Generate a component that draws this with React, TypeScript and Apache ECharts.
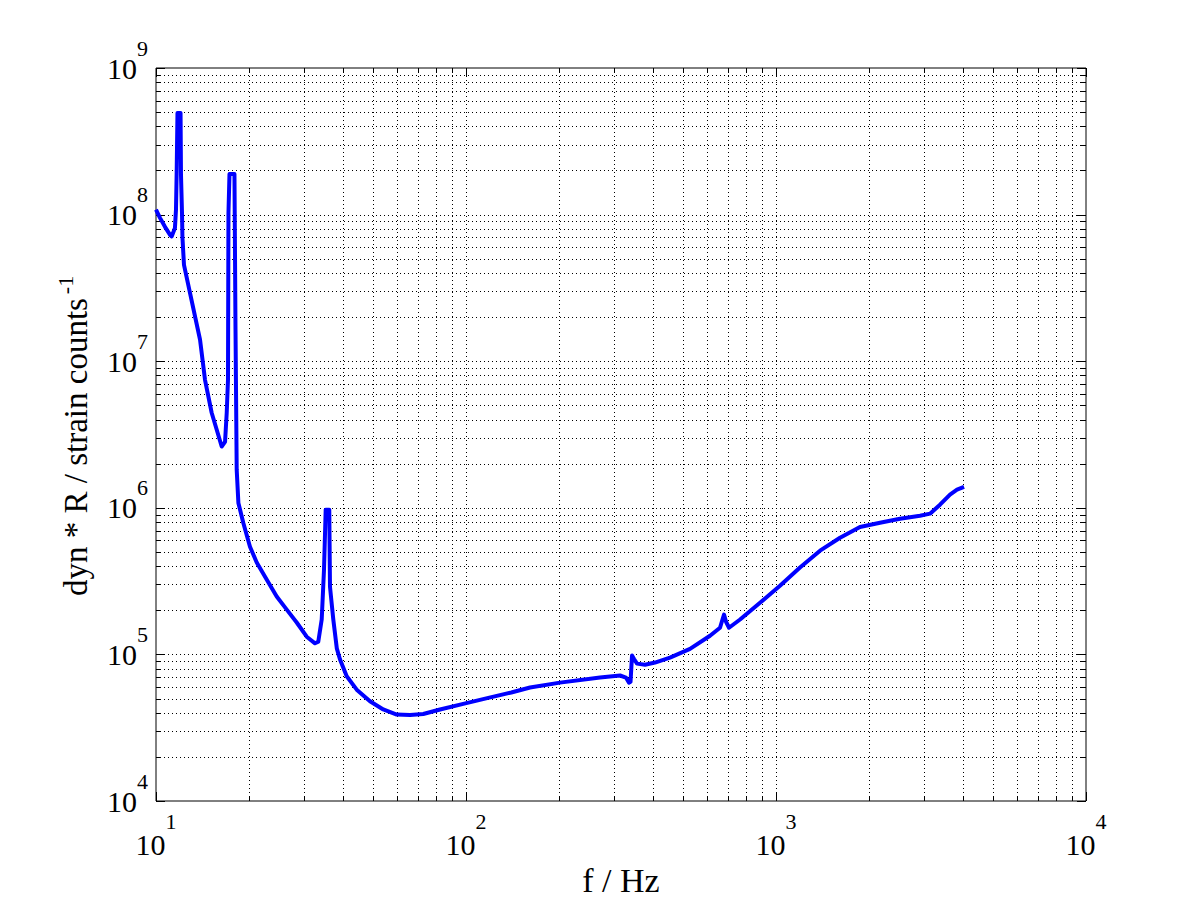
import React, { useEffect, useRef } from "react";
import * as echarts from "echarts";

// Frequency (Hz) and response values
const freqHz: number[] = [
  10, 10.3, 10.69, 11.1, 11.24, 11.51, 11.6, 11.66, 11.73, 12.0, 12.04, 12.13, 12.17, 12.31,
  13.87, 14.39, 15.12, 15.7, 16.29, 16.7, 16.91, 17.07, 17.13, 17.26, 17.91, 18.05, 18.21,
  18.44, 19.12, 20.1, 21.13, 22.75, 24.51, 26.41, 28.44, 30.63, 32.58, 33.38,
  34.24, 34.83, 35.27, 36.22, 36.41, 37.32, 38.3, 39.23, 41.23, 44.41, 49.01,
  54.09, 59.77, 65.97, 72.8, 82.45, 98.0, 118, 140, 160.9, 201, 270.5, 314, 328, 335.6, 339.4,
  343.2, 348.4, 356.2, 378, 407, 455, 528, 612.6, 659.8, 672, 679.7, 690, 705.5, 765.6, 888,
  1030, 1195, 1387, 1609, 1866, 2165, 2512, 2914, 3140, 3381, 3642, 3836, 4042,
];
const response: number[] = [
  1.08e8, 9.5e7, 8.25e7, 7.27e7, 7.1e7, 8.1e7, 1.08e8, 1.95e8, 4.93e8, 4.93e8, 1.86e8, 1.03e8, 7.0e7, 4.54e7,
  1.4e7, 7.47e6, 4.45e6, 3.41e6, 2.62e6, 2.82e6, 4.45e6, 7.47e6, 1.03e8, 1.89e8, 1.89e8, 1.64e7, 1.82e6,
  1.08e6, 7.91e5, 5.43e5, 4.23e5, 3.24e5, 2.48e5, 2.02e5, 1.65e5, 1.32e5, 1.19e5, 1.22e5,
  1.73e5, 3.78e5, 9.71e5, 9.71e5, 2.9e5, 1.73e5, 1.1e5, 9.22e4, 7.09e4, 5.75e4, 4.79e4,
  4.21e4, 3.89e4, 3.86e4, 3.92e4, 4.21e4, 4.6e4, 5.05e4, 5.5e4, 5.95e4, 6.42e4, 6.95e4, 7.18e4, 6.95e4, 6.42e4, 6.5e4,
  9.82e4, 9.3e4, 8.65e4, 8.5e4, 8.8e4, 9.51e4, 1.09e5, 1.34e5, 1.52e5, 1.73e5, 1.87e5, 1.67e5, 1.52e5, 1.73e5, 2.25e5,
  2.94e5, 3.91e5, 5.1e5, 6.25e5, 7.4e5, 7.9e5, 8.43e5, 8.83e5, 9.12e5, 1.05e6, 1.23e6, 1.33e6, 1.39e6,
];

// Axis tick values
const xMajorTicks: number[] = [10, 100, 1000, 10000];
const xMinorTicks: number[] = [
  20, 30, 40, 50, 60, 70, 80, 90,
  200, 300, 400, 500, 600, 700, 800, 900,
  2000, 3000, 4000, 5000, 6000, 7000, 8000, 9000,
];
const yMajorTicks: number[] = [1e4, 1e5, 1e6, 1e7, 1e8, 1e9];
const yMinorTicks: number[] = [
  2e4, 3e4, 4e4, 5e4, 6e4, 7e4, 8e4, 9e4,
  2e5, 3e5, 4e5, 5e5, 6e5, 7e5, 8e5, 9e5,
  2e6, 3e6, 4e6, 5e6, 6e6, 7e6, 8e6, 9e6,
  2e7, 3e7, 4e7, 5e7, 6e7, 7e7, 8e7, 9e7,
  2e8, 3e8, 4e8, 5e8, 6e8, 7e8, 8e8, 9e8,
];

const X_TITLE = "f / Hz";
const Y_TITLE = "dyn * R / strain counts";
const Y_TITLE_SUP = "-1";

const XMIN = 10;
const XMAX = 10000;
const YMIN = 1e4;
const YMAX = 1e9;
const FONT = "Liberation Serif";

export default function App() {
  const ref = useRef<HTMLDivElement>(null);

  useEffect(() => {
    if (!ref.current) return;
    const chart = echarts.init(ref.current, null, { renderer: "svg" });

    const lineData = freqHz.map((f, i) => [f, response[i]]);
    const tickData: number[][] = [
      ...xMajorTicks.map((v) => [v, YMIN, 0]),
      ...xMinorTicks.map((v) => [v, YMIN, 1]),
      ...yMajorTicks.map((v) => [XMIN, v, 2]),
      ...yMinorTicks.map((v) => [XMIN, v, 3]),
    ];

    const crisp = (v: number) => Math.round(v) + 0.5;

    const supStyle = {
      fontFamily: FONT,
      fontSize: 22,
      lineHeight: 22,
      color: "#000",
      verticalAlign: "top" as const,
    };
    const xRich = {
      b: { fontFamily: FONT, fontSize: 30, lineHeight: 68, color: "#000" },
      s: supStyle,
    };
    const yRich = {
      b: { fontFamily: FONT, fontSize: 30, lineHeight: 62, color: "#000" },
      s: supStyle,
    };
    const fmt = (v: number) => `{b|10}{s|${Math.round(Math.log10(v))}}`;

    chart.setOption({
      animation: false,
      backgroundColor: "#ffffff",
      grid: {
        left: 156,
        top: 68,
        width: 930,
        height: 733,
        show: true,
        borderColor: "#000",
        borderWidth: 1,
        backgroundColor: "transparent",
        containLabel: false,
        outerBoundsMode: "none",
      },
      xAxis: {
        type: "log",
        logBase: 10,
        min: XMIN,
        max: XMAX,
        axisLine: { show: false },
        axisTick: { show: false },
        splitLine: { show: false },
        minorSplitLine: { show: false },
        axisLabel: { formatter: fmt, rich: xRich, margin: 9 },
        name: X_TITLE,
        nameLocation: "middle",
        nameGap: 51,
        nameTextStyle: { fontFamily: FONT, fontSize: 34, color: "#000" },
      },
      yAxis: {
        type: "log",
        logBase: 10,
        min: YMIN,
        max: YMAX,
        axisLine: { show: false },
        axisTick: { show: false },
        splitLine: { show: false },
        minorSplitLine: { show: false },
        axisLabel: { formatter: fmt, rich: yRich, margin: 8 },
      },
      graphic: [
        {
          type: "text",
          x: 76,
          y: 447,
          rotation: Math.PI / 2,
          silent: true,
          style: {
            text: Y_TITLE,
            fontFamily: FONT,
            fontSize: 33,
            fill: "#000",
            align: "center",
            verticalAlign: "middle",
          },
        },
        {
          type: "text",
          x: 65,
          y: 285,
          rotation: Math.PI / 2,
          silent: true,
          style: {
            text: Y_TITLE_SUP,
            fontFamily: FONT,
            fontSize: 22,
            fill: "#000",
            align: "center",
            verticalAlign: "middle",
          },
        },
      ],
      series: [
        {
          type: "custom",
          silent: true,
          z: 1,
          clip: false,
          encode: { x: 0, y: 1 },
          data: tickData,
          renderItem: (_params: any, api: any) => {
            const kind = api.value(2);
            const children: any[] = [];
            const dash = { stroke: "#000", lineWidth: 1, lineDash: [1, 3] };
            const solid = { stroke: "#000", lineWidth: 1 };
            if (kind < 2) {
              const x = api.value(0);
              const b = api.coord([x, YMIN]);
              const t = api.coord([x, YMAX]);
              const px = crisp(b[0]);
              const L = kind === 0 ? 9 : 5;
              if (x !== XMIN && x !== XMAX) {
                children.push({ type: "line", shape: { x1: px, y1: b[1], x2: px, y2: t[1] }, style: dash });
              }
              children.push({ type: "line", shape: { x1: px, y1: b[1], x2: px, y2: b[1] - L }, style: solid });
              children.push({ type: "line", shape: { x1: px, y1: t[1], x2: px, y2: t[1] + L }, style: solid });
            } else {
              const y = api.value(1);
              const l = api.coord([XMIN, y]);
              const r = api.coord([XMAX, y]);
              const py = crisp(l[1]);
              const L = kind === 2 ? 9 : 5;
              if (y !== YMIN && y !== YMAX) {
                children.push({ type: "line", shape: { x1: l[0], y1: py, x2: r[0], y2: py }, style: dash });
              }
              children.push({ type: "line", shape: { x1: l[0], y1: py, x2: l[0] + L, y2: py }, style: solid });
              children.push({ type: "line", shape: { x1: r[0], y1: py, x2: r[0] - L, y2: py }, style: solid });
            }
            return { type: "group", children };
          },
        },
        {
          type: "line",
          z: 2,
          data: lineData,
          showSymbol: false,
          symbol: "none",
          lineStyle: { color: "#0000ff", width: 4, join: "round" },
          itemStyle: { color: "#0000ff" },
        },
      ],
    });

    return () => chart.dispose();
  }, []);

  return (
    <div
      ref={ref}
      style={{ position: "fixed", left: 0, top: 0, width: 1200, height: 900, background: "#fff" }}
    />
  );
}
